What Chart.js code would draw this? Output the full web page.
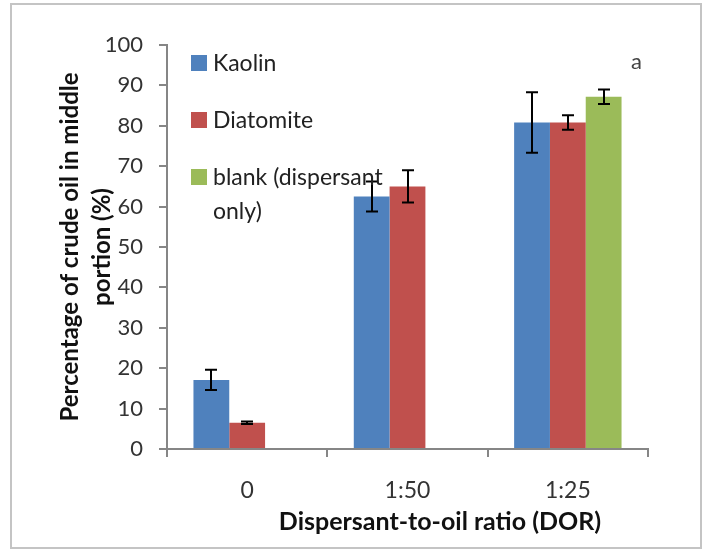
<!DOCTYPE html>
<html>
<head>
<meta charset="utf-8">
<script src="https://cdn.jsdelivr.net/npm/chart.js@4"></script>
<style>
  html, body { margin: 0; padding: 0; background: #fff; }
  #wrap { position: relative; width: 704px; height: 550px; overflow: hidden; }
  #frame { position: absolute; left: 10px; top: 3px; width: 688px; height: 542px;
    border: 2px solid #c4c4c4; pointer-events: none; }
  #legend { position: absolute; left: 191px; top: 55px; font: 23px Lato, "Open Sans", sans-serif; color: #222; }
  .lg-item { position: relative; height: 57px; }
  .lg-box { position: absolute; left: 0; top: 0; width: 16px; height: 16px; }
  .lg-text { position: absolute; left: 22px; top: -10px; line-height: 34px; white-space: nowrap; }
  #tag { position: absolute; left: 631px; top: 47px; font: 22px Lato, sans-serif; color: #444; }
  #xtitle { position: absolute; left: 440px; top: 520px; transform: translate(-50%, -50%);
    font: bold 25px Lato, "Open Sans", sans-serif; color: #111; white-space: nowrap; }
</style>
</head>
<body>
<div id="wrap">
  <canvas id="c" width="704" height="550"></canvas>
  <div id="legend"></div>
  <div id="tag">a</div>
  <div id="xtitle"></div>
  <div id="frame"></div>
</div>
<script>
// 데이터 — 그림에서 읽은 값
const categories = ['0', '1:50', '1:25'];
const seriesNames = ['Kaolin', 'Diatomite', 'blank (dispersant only)'];
const legendLines = [['Kaolin'], ['Diatomite'], ['blank (dispersant', 'only)']];
const kaolin = [17.1, 62.5, 80.8];
const diatomite = [6.5, 65.0, 80.8];
const blank = [null, null, 87.2];
const kaolinErr = [2.5, 3.7, 7.5];
const diatomiteErr = [0.3, 4.0, 1.8];
const blankErr = [null, null, 1.8];
const xTitle = 'Dispersant-to-oil ratio (DOR)';
const yTitle = ['Percentage of crude oil in middle', 'portion (%)'];
const COLORS = ['#4F81BD', '#C0504D', '#9BBB59'];

const AXIS = '#868686';
const FONT = 'Lato, "Open Sans", sans-serif';

// 범례 (플롯 안쪽 왼쪽 위)
const legend = document.getElementById('legend');
legendLines.forEach((lines, i) => {
  const item = document.createElement('div');
  item.className = 'lg-item';
  item.innerHTML = `<div class="lg-box" style="background:${COLORS[i]}"></div>`
    + `<div class="lg-text">${lines.join('<br>')}</div>`;
  legend.appendChild(item);
});
// x축 제목은 원본처럼 플롯 중앙보다 오른쪽에 있음
document.getElementById('xtitle').textContent = xTitle;

// 오차 막대
const errorBars = {
  id: 'errorBars',
  afterDatasetsDraw(chart) {
    const { ctx, scales: { y } } = chart;
    ctx.save();
    ctx.strokeStyle = '#000';
    ctx.lineWidth = 2;
    chart.data.datasets.forEach((ds, di) => {
      const meta = chart.getDatasetMeta(di);
      meta.data.forEach((bar, i) => {
        const v = ds.data[i];
        const e = ds.errors[i];
        if (v == null || e == null) return;
        const x = Math.round(bar.x);
        const top = y.getPixelForValue(v + e);
        const bot = y.getPixelForValue(v - e);
        ctx.beginPath();
        ctx.moveTo(x, top); ctx.lineTo(x, bot);
        ctx.moveTo(x - 6, top); ctx.lineTo(x + 6, top);
        ctx.moveTo(x - 6, bot); ctx.lineTo(x + 6, bot);
        ctx.stroke();
      });
    });
    ctx.restore();
  },
};

Chart.defaults.animation = false;
Chart.defaults.font.family = FONT;

new Chart(document.getElementById('c'), {
  type: 'bar',
  data: {
    labels: categories,
    datasets: [
      { label: seriesNames[0], data: kaolin, errors: kaolinErr, backgroundColor: COLORS[0] },
      { label: seriesNames[1], data: diatomite, errors: diatomiteErr, backgroundColor: COLORS[1] },
      { label: seriesNames[2], data: blank, errors: blankErr, backgroundColor: COLORS[2] },
    ],
  },
  options: {
    responsive: false,
    devicePixelRatio: 1,
    categoryPercentage: 0.67,
    barPercentage: 1.0,
    layout: { padding: { left: 55, right: 56, top: 45, bottom: 0 } },
    plugins: { legend: { display: false }, tooltip: { enabled: false } },
    scales: {
      x: {
        grid: { display: true, drawOnChartArea: false, offset: true, color: AXIS, lineWidth: 2, tickLength: 8 },
        border: { color: AXIS, width: 2 },
        ticks: { color: '#333', font: { size: 23 }, padding: 20 },
        afterFit: (s) => { s.height = 101; },
      },
      y: {
        min: 0, max: 100,
        grid: { display: true, drawOnChartArea: false, color: AXIS, lineWidth: 2, tickLength: 8 },
        border: { color: AXIS, width: 2 },
        ticks: { stepSize: 10, color: '#333', font: { size: 22 }, padding: 16 },
        title: { display: true, text: yTitle, color: '#111',
          font: { size: 24, weight: 'bold', lineHeight: 1.3 }, padding: { top: 0, bottom: 0 } },
        afterFit: (s) => { s.width = 112; },
      },
    },
  },
  plugins: [errorBars],
});
</script>
</body>
</html>
